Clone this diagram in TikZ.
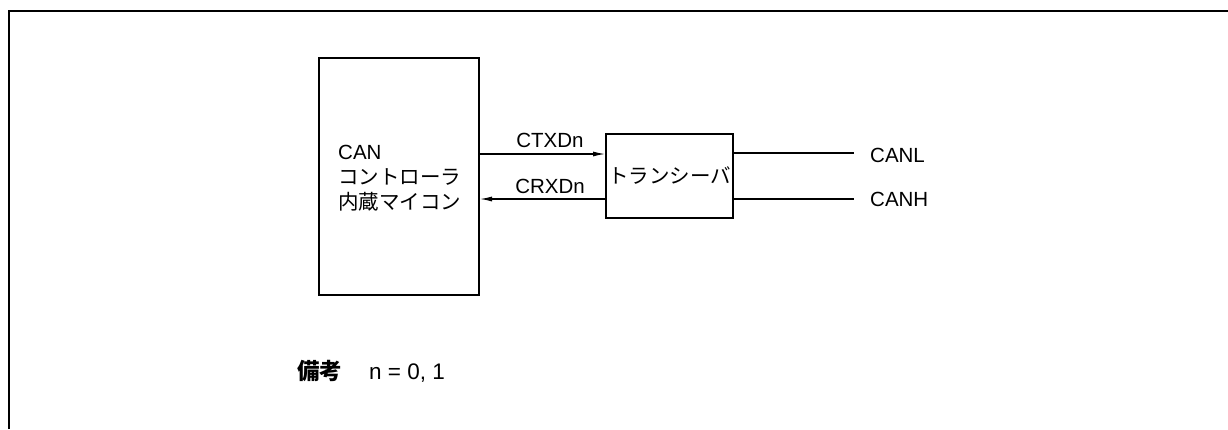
\documentclass[tikz,border=0pt]{standalone}
\usepackage{fontspec}
\setmainfont{Liberation Sans}
\newfontfamily\cjk{Noto Sans CJK JP}
\usetikzlibrary{arrows.meta}
\begin{document}
\begin{tikzpicture}[x=1pt,y=-1pt,
  box/.style={draw,line width=2pt,inner sep=0pt},
  sig/.style={line width=1.1pt},
  sigarrow/.style={sig,-{Latex[length=12pt,width=5pt]}},
  txt/.style={inner sep=0pt,font=\fontsize{20.5}{25}\selectfont},
  notetxt/.style={inner sep=0pt,font=\fontsize{22.5}{27}\selectfont},
  frame/.style={line width=2pt}]
\useasboundingbox (0,0) rectangle (1228,429);
\draw[frame] (9,429) -- (9,11) -- (1228,11);
% boxes
\node[box,minimum width=160pt,minimum height=237pt] (mcu) at (399,176.5) {};
\node[txt,anchor=west,align=left] (mcutext) at (338,178) {CAN\\{\cjk コントローラ}\\{\cjk 内蔵マイコン}};
\node[box,minimum width=127pt,minimum height=84pt,txt] (xcvr) at (669.5,176) {\cjk トランシーバ};
% signals
\draw[sigarrow] (mcu.east |- 0,154) -- (xcvr.west |- 0,154);
\draw[sigarrow] (xcvr.west |- 0,199) -- (mcu.east |- 0,199);
\node[txt,anchor=base] (ctx) at (550,147) {CTXDn};
\node[txt,anchor=base] (crx) at (550,193) {CRXDn};
\coordinate (canlend) at (854,153);
\coordinate (canhend) at (854,199);
\draw[sig] (xcvr.east |- canlend) -- (canlend);
\draw[sig] (xcvr.east |- canhend) -- (canhend);
\node[txt,anchor=west] (canl) at (870,155) {CANL};
\node[txt,anchor=west] (canh) at (870,199) {CANH};
% note
\node[notetxt,anchor=base west] (bikou) at (297,379) {\cjk\bfseries 備考};
\node[notetxt,anchor=base west] (neq) at (369,379) {n = 0, 1};
\end{tikzpicture}
\end{document}
